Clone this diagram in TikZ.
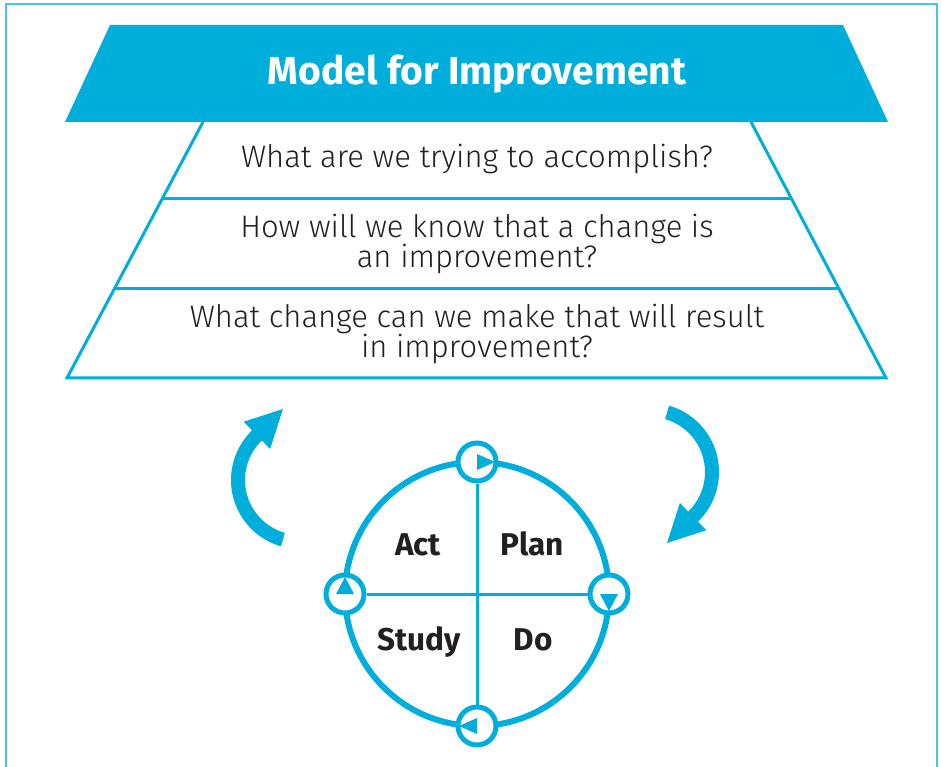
\documentclass[tikz,border=0pt]{standalone}
\usepackage{fontspec}
\setmainfont{Fira Sans}
\IfFontExistsTF{Fira Sans Light}{\newfontfamily\qfont{Fira Sans Light}}{\newfontfamily\qfont{Fira Sans}}
\usetikzlibrary{calc}
\definecolor{pdsa}{RGB}{0,174,219}
\definecolor{framecol}{RGB}{70,198,238}
\definecolor{ink}{RGB}{35,31,32}
\tikzset{
  titletext/.style={text=white, font=\fontsize{39}{42}\selectfont\bfseries, inner sep=0pt, anchor=base},
  qtext/.style={text=ink, font=\fontsize{31}{32}\selectfont\qfont, inner sep=0pt, anchor=base},
  ptext/.style={text=ink, font=\fontsize{31.5}{32}\selectfont\bfseries, inner sep=0pt, anchor=base},
  ring/.style={circle, draw=pdsa, line width=5pt, fill=white, minimum size=38pt, inner sep=0pt},
  blueline/.style={draw=pdsa, line width=3pt},
}
\begin{document}
\begin{tikzpicture}[x=1pt,y=1pt]
\useasboundingbox (0,0) rectangle (941,766);
\fill[white] (0,0) rectangle (941,766);
% frame
\draw[framecol, line width=2pt] (6,-5) -- (6,762) -- (937,762) -- (937,-5);
% title trapezoid
\fill[pdsa] (110,741) -- (843,741) -- (888,644) -- (65,644) -- cycle;
\node[titletext] (title) at (477,681) {Model for Improvement};
% question trapezoid
\coordinate (tl) at (203,644);
\coordinate (tr) at (751,644);
\coordinate (bl) at (67,388);
\coordinate (br) at (886,388);
\draw[blueline] (tl) -- (bl) -- (br) -- (tr);
\draw[blueline] ($(tl)!0.3008!(bl)$) -- ($(tr)!0.3008!(br)$);
\draw[blueline] ($(tl)!0.6523!(bl)$) -- ($(tr)!0.6523!(br)$);
\node[qtext] (q1) at (477,598) {What are we trying to accomplish?};
\node[qtext] (q2a) at (477,528) {How will we know that a change is};
\node[qtext] (q2b) at (477,498) {an improvement?};
\node[qtext] (q3a) at (477,438) {What change can we make that will result};
\node[qtext] (q3b) at (477,408) {in improvement?};
% curved arrows
\coordinate (lc) at (300,286);
\fill[pdsa] ($(lc)+(254:69)$) arc[start angle=254, end angle=134, radius=69pt]
  -- ($(lc)+(134:81)$) -- ($(lc)+(103.5:73)$) -- ($(lc)+(134:43)$) -- ($(lc)+(134:55)$)
  arc[start angle=134, end angle=254, radius=55pt] -- cycle;
\begin{scope}[rotate around={180:(475,290)}]
\coordinate (rc) at (300,286);
\fill[pdsa] ($(rc)+(254:69)$) arc[start angle=254, end angle=134, radius=69pt]
  -- ($(rc)+(134:81)$) -- ($(rc)+(103.5:73)$) -- ($(rc)+(134:43)$) -- ($(rc)+(134:55)$)
  arc[start angle=134, end angle=254, radius=55pt] -- cycle;
\end{scope}
% PDSA circle
\coordinate (c) at (477,172);
\draw[pdsa, line width=6pt] (c) circle[radius=132pt];
\node[ring] (n) at ($(c)+(0,132)$) {};
\node[ring] (e) at ($(c)+(132,0)$) {};
\node[ring] (s) at ($(c)+(0,-132)$) {};
\node[ring] (w) at ($(c)+(-132,0)$) {};
\draw[blueline] (n) -- (s);
\draw[blueline] (w) -- (e);
\fill[pdsa] ($(n)+(0,8)$) -- ($(n)+(18,0)$) -- ($(n)+(0,-8)$) -- cycle;
\fill[pdsa] ($(e)+(-9,0)$) -- ($(e)+(0,-17)$) -- ($(e)+(9,0)$) -- cycle;
\fill[pdsa] ($(s)+(0,8)$) -- ($(s)+(-18,0)$) -- ($(s)+(0,-8)$) -- cycle;
\fill[pdsa] ($(w)+(-9,0)$) -- ($(w)+(0,17)$) -- ($(w)+(9,0)$) -- cycle;
\node[ptext] (act) at (418,211) {Act};
\node[ptext] (plan) at (532,211) {Plan};
\node[ptext] (study) at (419,116) {Study};
\node[ptext] (do) at (533,116) {Do};
\end{tikzpicture}
\end{document}
